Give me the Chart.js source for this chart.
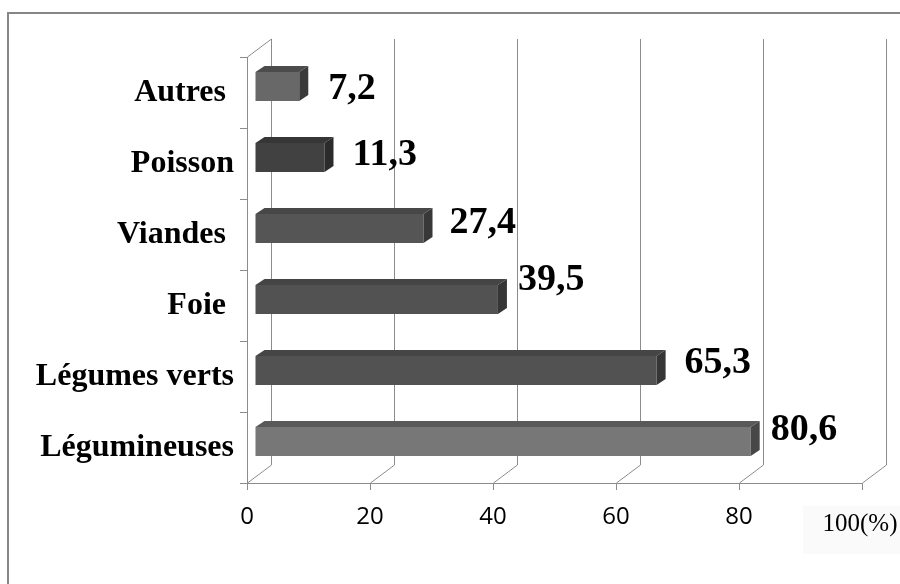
<!DOCTYPE html>
<html lang="fr">
<head>
<meta charset="utf-8">
<title>Sources alimentaires</title>
<script src="https://cdn.jsdelivr.net/npm/chart.js@4.4.0/dist/chart.umd.min.js"></script>
<style>
  body { margin: 0; background: #fff; }
  #chartSources { display: block; }
</style>
</head>
<body>
<canvas id="chartSources" width="900" height="584"></canvas>
<script>
const categories = ['Autres ', 'Poisson', 'Viandes ', 'Foie ', 'Légumes verts', 'Légumineuses'];
const pourcentages = [7.2, 11.3, 27.4, 39.5, 65.3, 80.6];
const ticksX = [0, 20, 40, 60, 80, 100];

// couleurs des faces de chaque barre
const faceAvant  = ['#686868', '#414141', '#555555', '#525252', '#525252', '#777777'];
const faceDessus = ['#4c4c4c', '#363636', '#474747', '#454545', '#454545', '#595959'];
const faceCote   = ['#3a3a3a', '#2b2b2b', '#383838', '#363636', '#363636', '#474747'];

const PROF = { dx: 24, dy: -18 };     // profondeur des murs
const DECALAGE = { dx: 8, dy: -6 };   // barres placées dans la profondeur
const EPAIS = { dx: 9, dy: -6 };      // épaisseur des barres
// petits déplacements des étiquettes [écart, montée]
const posEtiq = [[20, 3], [19, -2], [17, -5], [11, -19], [19, -7], [11, -11]];

const GRIS = '#8c8c8c';

function poly(ctx, pts) {
    ctx.beginPath();
    ctx.moveTo(pts[0][0], pts[0][1]);
    for (let k = 1; k < pts.length; k++) ctx.lineTo(pts[k][0], pts[k][1]);
    ctx.closePath();
    ctx.fill();
}

const cadre = {
    id: 'cadre',
    beforeDraw(chart) {
        const ctx = chart.ctx;
        ctx.save();
        ctx.strokeStyle = '#868686';
        ctx.lineWidth = 2;
        ctx.beginPath();
        ctx.moveTo(8, 584);
        ctx.lineTo(8, 13);
        ctx.lineTo(900, 13);
        ctx.stroke();
        ctx.restore();
    }
};

const effet3d = {
    id: 'effet3d',
    beforeDatasetsDraw(chart) {
        const { ctx, chartArea: a, scales: { x } } = chart;
        ctx.save();
        ctx.strokeStyle = GRIS;
        ctx.lineWidth = 1;
        ctx.beginPath();
        ticksX.forEach(v => {
            const px = Math.round(x.getPixelForValue(v)) + 0.5;
            ctx.moveTo(px, a.bottom);
            ctx.lineTo(px + PROF.dx, a.bottom + PROF.dy);
            ctx.lineTo(px + PROF.dx, a.top + PROF.dy);
        });
        const x0 = Math.round(x.getPixelForValue(0)) + 0.5;
        ctx.moveTo(x0, a.top);
        ctx.lineTo(x0 + PROF.dx, a.top + PROF.dy);
        ctx.stroke();
        ctx.restore();

        // les faces avant sont dessinées un peu en retrait
        ctx.save();
        ctx.translate(DECALAGE.dx, DECALAGE.dy);
    },
    afterDatasetsDraw(chart) {
        const ctx = chart.ctx;
        ctx.restore();
        const meta = chart.getDatasetMeta(0);
        ctx.save();
        meta.data.forEach((bar, i) => {
            const { x: fin, y, base, height } = bar.getProps(['x', 'y', 'base', 'height'], true);
            const g = base + DECALAGE.dx, d = fin + DECALAGE.dx;
            const h = y - height / 2 + DECALAGE.dy, b = y + height / 2 + DECALAGE.dy;
            ctx.fillStyle = faceDessus[i];
            poly(ctx, [[g, h], [g + EPAIS.dx, h + EPAIS.dy], [d + EPAIS.dx, h + EPAIS.dy], [d, h]]);
            ctx.fillStyle = faceCote[i];
            poly(ctx, [[d, h], [d + EPAIS.dx, h + EPAIS.dy], [d + EPAIS.dx, b + EPAIS.dy], [d, b]]);

            // valeur
            ctx.fillStyle = '#000';
            ctx.font = 'bold 38px "Liberation Serif"';
            ctx.textAlign = 'left';
            ctx.textBaseline = 'middle';
            const txt = pourcentages[i].toFixed(1).replace('.', ',');
            ctx.fillText(txt, d + EPAIS.dx + posEtiq[i][0], (h + b) / 2 + posEtiq[i][1]);
        });
        ctx.restore();
    },
    afterDraw(chart) {
        const { ctx, scales: { x } } = chart;
        const px = x.getPixelForValue(100);
        ctx.save();
        ctx.fillStyle = '#fafafa';
        ctx.fillRect(px - 59, 506, 100, 48);
        ctx.fillStyle = '#000';
        ctx.font = '25px "Liberation Serif"';
        ctx.textAlign = 'center';
        ctx.textBaseline = 'middle';
        ctx.fillText('100(%)', px - 2, 524);
        ctx.restore();
    }
};

const chart = new Chart(document.getElementById('chartSources'), {
    type: 'bar',
    data: {
        labels: categories,
        datasets: [{
            data: pourcentages,
            backgroundColor: faceAvant,
            borderWidth: 0,
            barPercentage: 0.41,
            categoryPercentage: 1
        }]
    },
    options: {
        indexAxis: 'y',
        responsive: false,
        animation: false,
        layout: { padding: { top: 57, right: 38, left: 0, bottom: 0 } },
        plugins: {
            legend: { display: false },
            tooltip: { enabled: false }
        },
        scales: {
            x: {
                min: 0,
                max: 100,
                afterBuildTicks: s => { s.ticks = ticksX.map(v => ({ value: v })); },
                afterFit: s => { s.height = 101; },
                grid: { drawOnChartArea: false, tickLength: 7, color: GRIS },
                border: { color: GRIS },
                ticks: {
                    color: '#000',
                    font: { family: 'Open Sans', size: 24 },
                    padding: 13,
                    callback: v => (v === 100 ? '' : v)
                }
            },
            y: {
                afterFit: s => { s.width = 247; },
                grid: { drawOnChartArea: false, tickLength: 7, color: GRIS, offset: true },
                border: { color: GRIS },
                ticks: {
                    color: '#000',
                    font: { family: 'Liberation Serif', size: 32, weight: 'bold' },
                    padding: 6
                }
            }
        }
    },
    plugins: [cadre, effet3d]
});
</script>
</body>
</html>
